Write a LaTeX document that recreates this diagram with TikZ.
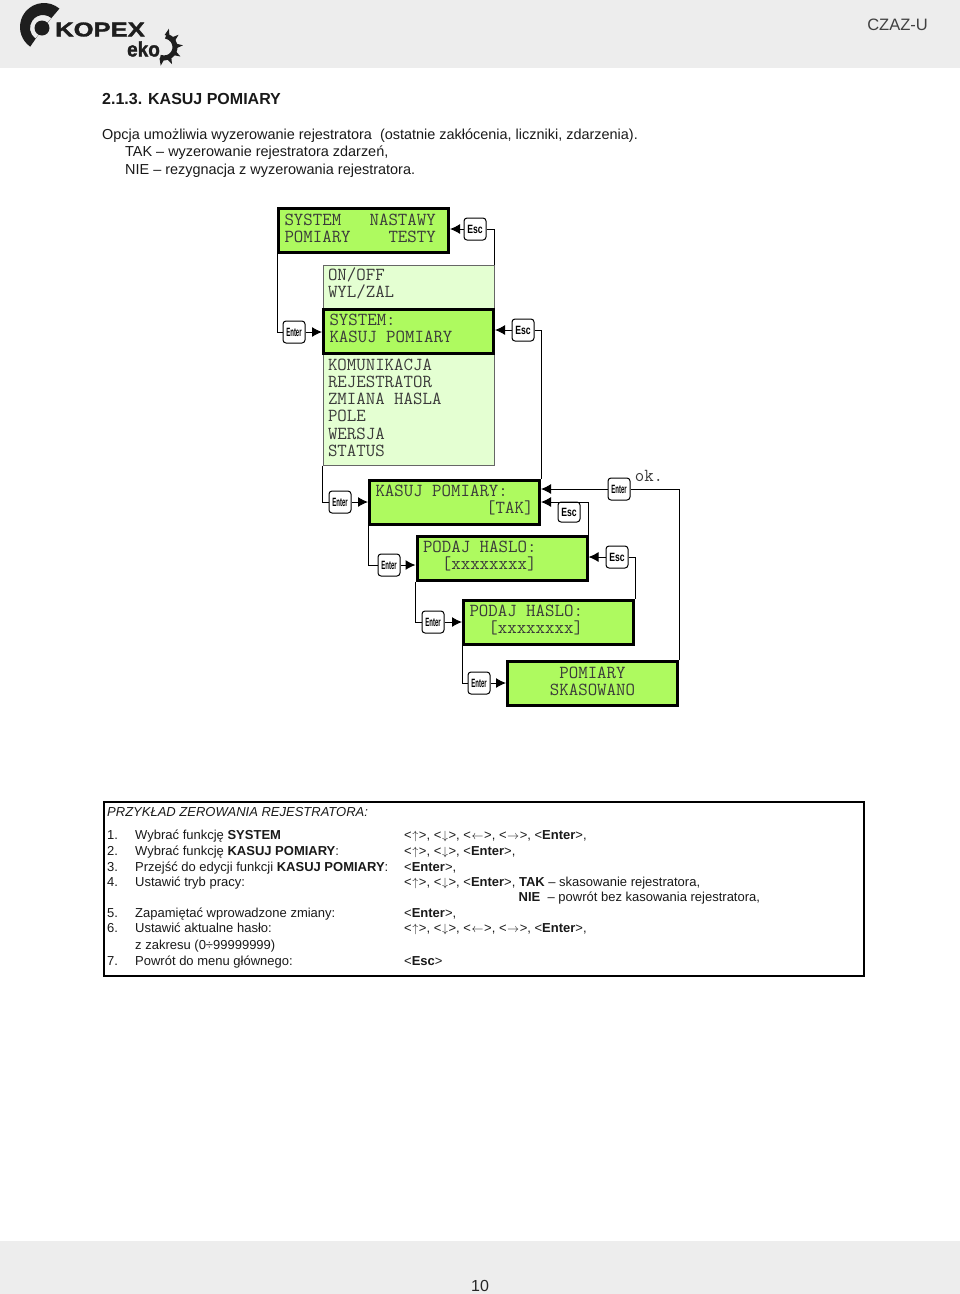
\documentclass[tikz,border=0pt]{standalone}
\usepackage{fontspec}
\usepackage{graphicx}
\setmainfont{Liberation Sans}
\newfontfamily\logofont[UprightFont=* Bold, FakeBold=1.5]{Liberation Sans}
\usetikzlibrary{arrows.meta}
\definecolor{lcdgreen}{HTML}{AEFA5F}
\definecolor{lcdlight}{HTML}{E4FFD2}
\definecolor{bandgray}{HTML}{EDEDED}
\definecolor{lcdtext}{HTML}{3A3A3A}
\definecolor{logoblack}{HTML}{1E1E1E}
\tikzset{
    lcd/.style={draw=black, line width=3pt, fill=lcdgreen, text=lcdtext, inner xsep=6pt, inner ysep=2pt,
        text width=158pt, minimum height=44pt, text height=11pt, text depth=22pt, align=flush left,
        font=\ttfamily\fontsize{18.36}{17.2}\selectfont},
    keybtn/.style={draw=black, line width=1pt, fill=white, rounded corners=3pt, minimum width=22pt, minimum height=22pt,
        inner sep=0pt, font=\bfseries\fontsize{12}{12}\selectfont},
    conn/.style={black, line width=1pt},
    arr/.style={conn, -{Latex[length=10pt,width=10pt]}},
    body/.style={anchor=base west, inner sep=0pt, font=\fontsize{14.45}{16}\selectfont, text=black!90},
    row/.style={anchor=base west, inner sep=0pt, font=\fontsize{13}{15}\selectfont, text=black!90}
}
\newcommand{\enterkey}{\scalebox{.5}[1]{Enter}}
\newcommand{\esckey}{\scalebox{.72}[1]{Esc}}
\newcommand{\arrowkey}[1]{<\kern.6pt$#1$\kern.6pt>}
\begin{document}
\begin{tikzpicture}[x=1pt, y=-1pt]
    \useasboundingbox (0, 0) rectangle (960, 1294);
    \fill[bandgray] (0, 0) rectangle (960, 68);
    \fill[bandgray] (0, 1241) rectangle (960, 1294);

    % Logo
    \fill[logoblack] (44, 27) ++(-50:24) arc (-50:-235:24) -- (43, 28) ++(-235:13) arc (-235:-50:13) -- cycle;
    \fill[logoblack] (42, 28) circle (7.5);
    \node (logoname) at (100, 29.5) {\scalebox{1.28}[1]{\fontsize{20}{20}\logofont\color{logoblack}KOPEX}};
    \node (logoeko) at (143.5, 49) {\scalebox{.95}[1.05]{\fontsize{20}{20}\logofont\color{logoblack}eko}};
    \draw[logoblack, line width=5pt] (164, 47) ++(-80:11) arc (-80:110:11);
    \foreach \a in {-75, -40, -5, 30, 65, 100}
        \fill[logoblack, shift={(164, 47)}] (\a-12:12) -- (\a:19) -- (\a+12:12) -- cycle;

    % Header and footer
    \node[anchor=east, inner sep=0pt, text=black!75, font=\fontsize{16.5}{18}\selectfont] (docname) at (928, 25) {CZAZ-U};
    \node[anchor=center, inner sep=0pt, text=black!85, font=\fontsize{16}{18}\selectfont] (pagenum) at (480, 1286) {10};

    % Description
    \node[body, font=\bfseries\fontsize{16}{18}\selectfont] (title) at (102, 104) {2.1.3. KASUJ POMIARY};
    \node[body] (descA) at (102, 139) {Opcja umożliwia wyzerowanie rejestratora \ (ostatnie zakłócenia, liczniki, zdarzenia).};
    \node[body] (descB) at (125, 156) {TAK – wyzerowanie rejestratora zdarzeń,};
    \node[body] (descC) at (125, 174) {NIE – rezygnacja z wyzerowania rejestratora.};

    % Menu screens
    \node[lcd, anchor=north west, fill=lcdlight, draw=black!60, line width=1pt, minimum height=200pt, inner xsep=5pt, inner ysep=3pt,
        text width=161pt, text height=8pt, text depth=178pt] (menu) at (322.5, 264.5)
        {ON/OFF\\WYL/ZAL\\[55.8pt]KOMUNIKACJA\\REJESTRATOR\\ZMIANA HASLA\\POLE\\WERSJA\\STATUS};
    \node[lcd] (sysmain) at (363.5, 230.5) {SYSTEM~~~NASTAWY\\POMIARY~~~~TESTY};
    \node[lcd] (syskasuj) at (408.5, 331) {SYSTEM:\\KASUJ POMIARY};
    \node[lcd] (kasuj) at (454.5, 502) {KASUJ POMIARY:\\\hfill[TAK]};
    \node[lcd] (podajA) at (502, 558) {PODAJ HASLO:\\~~[xxxxxxxx]};
    \node[lcd] (podajB) at (548.5, 622) {PODAJ HASLO:\\~~[xxxxxxxx]};
    \node[lcd, align=flush center] (skasowano) at (592.5, 683.5) {POMIARY\\SKASOWANO};
    \node[inner sep=0pt, text=lcdtext, font=\ttfamily\fontsize{18.36}{17}\selectfont] (oktext) at (649, 476) {ok.};

    % Keys
    \node[keybtn] (escA) at (475, 229) {\esckey};
    \node[keybtn] (enterA) at (294, 332) {\enterkey};
    \node[keybtn] (escB) at (523, 330) {\esckey};
    \node[keybtn] (enterB) at (340, 502) {\enterkey};
    \node[keybtn, minimum height=20pt] (escC) at (569, 512) {\esckey};
    \node[keybtn] (enterC) at (619, 489) {\enterkey};
    \node[keybtn] (escD) at (617, 557) {\esckey};
    \node[keybtn] (enterD) at (389, 565) {\enterkey};
    \node[keybtn] (enterE) at (433, 622) {\enterkey};
    \node[keybtn] (enterF) at (479, 683) {\enterkey};

    % Enter paths
    \draw[conn] (sysmain.south west) |- (enterA.west);
    \draw[arr] (enterA.east) -- (enterA.east -| syskasuj.west);
    \draw[conn] (menu.south west) |- (enterB.west);
    \draw[arr] (enterB.east) -- (enterB.east -| kasuj.west);
    \draw[conn] (kasuj.south west) |- (enterD.west);
    \draw[arr] (enterD.east) -- (enterD.east -| podajA.west);
    \draw[conn] (podajA.south west) |- (enterE.west);
    \draw[arr] (enterE.east) -- (enterE.east -| podajB.west);
    \draw[conn] (podajB.south west) |- (enterF.west);
    \draw[arr] (enterF.east) -- (enterF.east -| skasowano.west);
    \draw[conn] (skasowano.north east) |- (enterC.east);
    \draw[arr] (enterC.west) -- (enterC.west -| kasuj.east);

    % Esc paths
    \draw[arr] (escA.west) -- (escA.west -| sysmain.east);
    \draw[conn] (escA.east) -| (menu.north east);
    \draw[arr] (escB.west) -- (escB.west -| syskasuj.east);
    \draw[conn] (escB.east) -| (kasuj.north east);
    \draw[arr] (podajA.north east) |- (kasuj.east);
    \draw[arr] (escD.west) -- (escD.west -| podajA.east);
    \draw[conn] (escD.east) -| (podajB.north east);

    % Example
    \node[draw=black, line width=2pt, minimum width=760pt, minimum height=174pt, inner sep=0pt] (examplebox) at (483.5, 888.5) {};
    \node[row, font=\itshape\fontsize{13}{15}\selectfont] (examplehead) at (107, 816) {PRZYKŁAD ZEROWANIA REJESTRATORA:};
    \foreach \n/\y/\num/\task/\keys in {
        a/839/1./{Wybrać funkcję \textbf{SYSTEM}}/{\arrowkey{\uparrow}, \arrowkey{\downarrow}, \arrowkey{\leftarrow}, \arrowkey{\rightarrow}, <\textbf{Enter}>,},
        b/855/2./{Wybrać funkcję \textbf{KASUJ POMIARY}:}/{\arrowkey{\uparrow}, \arrowkey{\downarrow}, <\textbf{Enter}>,},
        c/871/3./{Przejść do edycji funkcji \textbf{KASUJ POMIARY}:}/{<\textbf{Enter}>,},
        d/886/4./{Ustawić tryb pracy:}/{\arrowkey{\uparrow}, \arrowkey{\downarrow}, <\textbf{Enter}>, \textbf{TAK} – skasowanie rejestratora,},
        f/917/5./{Zapamiętać wprowadzone zmiany:}/{<\textbf{Enter}>,},
        g/932/6./{Ustawić aktualne hasło:}/{\arrowkey{\uparrow}, \arrowkey{\downarrow}, \arrowkey{\leftarrow}, \arrowkey{\rightarrow}, <\textbf{Enter}>,},
        i/965/7./{Powrót do menu głównego:}/{<\textbf{Esc}>}} {
        \node[row] (num\n) at (107, \y) {\num};
        \node[row] (task\n) at (135, \y) {\task};
        \node[row] (keys\n) at (404, \y) {\keys};
    }
    \node[row] (keyse) at (518.5, 901) {\textbf{NIE} \ – powrót bez kasowania rejestratora,};
    \node[row] (taskh) at (135, 949) {z zakresu (0÷99999999)};
\end{tikzpicture}
\end{document}
